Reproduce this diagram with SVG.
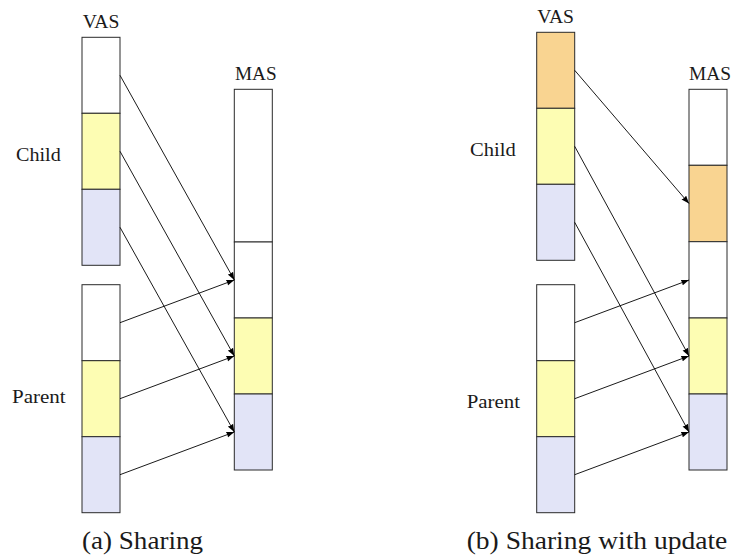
<svg xmlns="http://www.w3.org/2000/svg" width="732" height="558" viewBox="0 0 732 558">
  <defs>
    <style>
      .seg { stroke: #2a2a2a; stroke-width: 1; }
      .white { fill: #ffffff; }
      .yel { fill: #fdfdb3; }
      .blu { fill: #e2e4f7; }
      .org { fill: #f9d491; }
      .lbl, .cap { font-family: "Liberation Serif", "Times New Roman", Times, "DejaVu Serif", "Noto Serif", "Nimbus Roman", FreeSerif, serif; fill: #1a1a1a; }
      .lbl { font-size: 19px; }
      .cap { font-size: 25.5px; }
      .link { stroke: #000; stroke-width: 0.9; fill: none; marker-end: url(#tip); }
    </style>
    <marker id="tip" markerUnits="userSpaceOnUse" markerWidth="10" markerHeight="8" refX="8" refY="3" orient="auto">
      <path d="M0,0 L8,3 L0,6 Q1.5,3 0,0 Z" fill="#000"/>
    </marker>
  </defs>

  <!-- (a) Sharing -->
  <g id="a-child-vas">
    <rect class="seg white" x="82" y="37.3" width="38" height="76"/>
    <rect class="seg yel" x="82" y="113.3" width="38" height="76"/>
    <rect class="seg blu" x="82" y="189.3" width="38" height="76"/>
  </g>
  <g id="a-parent-vas">
    <rect class="seg white" x="82" y="284.7" width="38" height="76"/>
    <rect class="seg yel" x="82" y="360.7" width="38" height="76"/>
    <rect class="seg blu" x="82" y="436.7" width="38" height="76"/>
  </g>
  <g id="a-mas">
    <rect class="seg white" x="234.3" y="89.3" width="38" height="152.7"/>
    <rect class="seg white" x="234.3" y="242" width="38" height="76"/>
    <rect class="seg yel" x="234.3" y="318" width="38" height="76"/>
    <rect class="seg blu" x="234.3" y="394" width="38" height="76"/>
  </g>
  <g id="a-labels">
    <text class="lbl" x="82.7" y="28" textLength="36.7" lengthAdjust="spacingAndGlyphs">VAS</text>
    <text class="lbl" x="235" y="80" textLength="41.7" lengthAdjust="spacingAndGlyphs">MAS</text>
    <text class="lbl" x="16" y="160.7" textLength="44.7" lengthAdjust="spacingAndGlyphs">Child</text>
    <text class="lbl" x="12" y="403.3" textLength="53.7" lengthAdjust="spacingAndGlyphs">Parent</text>
    <text class="cap" x="82" y="548.5" textLength="121" lengthAdjust="spacingAndGlyphs">(a) Sharing</text>
  </g>
  <g id="a-links">
    <line class="link" x1="120" y1="75.3" x2="234.3" y2="280"/>
    <line class="link" x1="120" y1="151.3" x2="234.3" y2="356"/>
    <line class="link" x1="120" y1="227.3" x2="234.3" y2="432"/>
    <line class="link" x1="120" y1="322.7" x2="234.3" y2="280"/>
    <line class="link" x1="120" y1="398.7" x2="234.3" y2="356"/>
    <line class="link" x1="120" y1="474.7" x2="234.3" y2="432"/>
  </g>

  <!-- (b) Sharing with update -->
  <g id="b-child-vas">
    <rect class="seg org" x="536.7" y="32.3" width="38" height="76"/>
    <rect class="seg yel" x="536.7" y="108.3" width="38" height="76"/>
    <rect class="seg blu" x="536.7" y="184.3" width="38" height="76"/>
  </g>
  <g id="b-parent-vas">
    <rect class="seg white" x="536.7" y="284.7" width="38" height="76"/>
    <rect class="seg yel" x="536.7" y="360.7" width="38" height="76"/>
    <rect class="seg blu" x="536.7" y="436.7" width="38" height="76"/>
  </g>
  <g id="b-mas">
    <rect class="seg white" x="689" y="89.3" width="38" height="76"/>
    <rect class="seg org" x="689" y="165.3" width="38" height="76.4"/>
    <rect class="seg white" x="689" y="241.7" width="38" height="76.3"/>
    <rect class="seg yel" x="689" y="318" width="38" height="76"/>
    <rect class="seg blu" x="689" y="394" width="38" height="76"/>
  </g>
  <g id="b-labels">
    <text class="lbl" x="537.3" y="23.3" textLength="36.7" lengthAdjust="spacingAndGlyphs">VAS</text>
    <text class="lbl" x="689" y="80" textLength="42" lengthAdjust="spacingAndGlyphs">MAS</text>
    <text class="lbl" x="470" y="155.7" textLength="45.7" lengthAdjust="spacingAndGlyphs">Child</text>
    <text class="lbl" x="466.7" y="408.3" textLength="53.3" lengthAdjust="spacingAndGlyphs">Parent</text>
    <text class="cap" x="466.7" y="549" textLength="260.6" lengthAdjust="spacingAndGlyphs">(b) Sharing with update</text>
  </g>
  <g id="b-links">
    <line class="link" x1="574.7" y1="70.3" x2="689" y2="203.5"/>
    <line class="link" x1="574.7" y1="146.3" x2="689" y2="356"/>
    <line class="link" x1="574.7" y1="222.3" x2="689" y2="432"/>
    <line class="link" x1="574.7" y1="322.7" x2="689" y2="280"/>
    <line class="link" x1="574.7" y1="398.7" x2="689" y2="356"/>
    <line class="link" x1="574.7" y1="474.7" x2="689" y2="432"/>
  </g>
</svg>
